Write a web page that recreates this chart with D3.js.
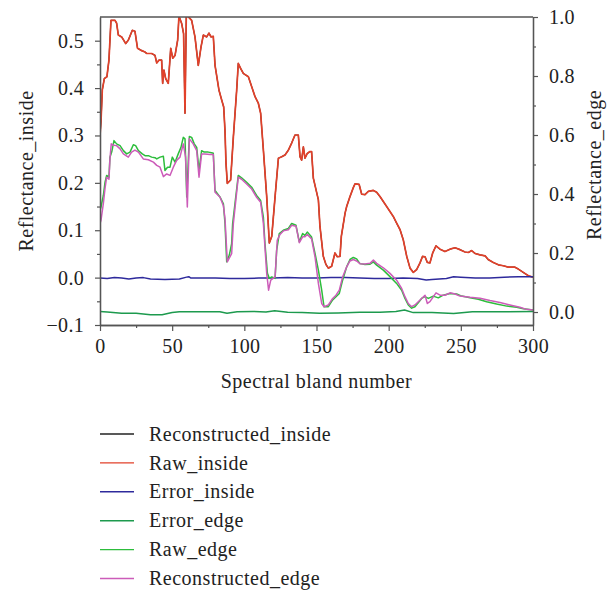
<!DOCTYPE html>
<html>
<head>
<meta charset="utf-8">
<script src="https://cdn.jsdelivr.net/npm/d3@7"></script>
<style>
  html, body { margin: 0; padding: 0; background: #fff; }
  svg { display: block; }
  text { font-family: "Liberation Serif", "Times New Roman", serif; fill: #222; }
</style>
</head>
<body>
<svg id="chart" width="613" height="590"></svg>
<script>
// Spectral band numbers and reflectance values for each series: [band, value]
const rawInside = [[0,0.300],[0.7,0.330],[1.6,0.396],[3,0.420],[4.8,0.424],[6.2,0.459],[7.6,0.543],[10.4,0.543],[11.5,0.537],[12.7,0.512],[15,0.508],[17.8,0.494],[19.6,0.501],[22.4,0.522],[24.2,0.520],[26,0.484],[28.9,0.479],[31.2,0.476],[32.3,0.473],[35.8,0.473],[38.1,0.469],[39.3,0.453],[40.9,0.459],[42.7,0.459],[43.4,0.410],[44.3,0.438],[45.5,0.420],[47.3,0.410],[49,0.484],[50.4,0.463],[52,0.469],[53.8,0.501],[54.7,0.552],[56.6,0.536],[57.9,0.515],[58.9,0.347],[59.8,0.555],[63.5,0.543],[65.8,0.508],[68.1,0.448],[70,0.487],[71.6,0.512],[73.9,0.508],[75.5,0.516],[76.9,0.508],[78.5,0.509],[79.7,0.448],[82.4,0.396],[84.3,0.375],[85.7,0.360],[86.6,0.310],[87.3,0.241],[88.2,0.199],[90.5,0.206],[92.4,0.297],[94.7,0.396],[95.8,0.452],[97.5,0.441],[99.3,0.431],[102.8,0.424],[105.1,0.403],[107.4,0.382],[109.7,0.368],[111.3,0.347],[113.2,0.269],[115.5,0.171],[117.3,0.073],[119,0.087],[121.3,0.171],[123.6,0.252],[125.9,0.255],[128.2,0.259],[130.5,0.269],[132.8,0.284],[135.1,0.301],[137.4,0.301],[138.6,0.255],[139.7,0.248],[140.9,0.276],[142,0.252],[143.6,0.262],[145.5,0.266],[146.6,0.266],[147.8,0.210],[151.3,0.164],[152.4,0.108],[154.7,0.045],[156.5,0.028],[158.2,0.020],[160.5,0.024],[162.8,0.052],[164.4,0.044],[166.3,0.045],[167.2,0.087],[169.8,0.136],[170.9,0.150],[173.2,0.171],[175.5,0.190],[176.7,0.198],[179.5,0.197],[181.3,0.176],[183.6,0.175],[185.9,0.182],[189.4,0.184],[191.7,0.180],[194,0.171],[198.6,0.150],[203.2,0.129],[205,0.118],[207.9,0.101],[210.1,0.080],[212.5,0.045],[214.8,0.020],[217.1,0.011],[219.4,0.017],[221.7,0.031],[223.5,0.045],[225.2,0.044],[226.8,0.032],[228.6,0.031],[230.5,0.052],[232.8,0.067],[235.6,0.060],[239,0.055],[242.5,0.060],[246,0.063],[249.4,0.059],[252.9,0.054],[255.2,0.053],[257.5,0.057],[259.8,0.051],[263.3,0.048],[266.8,0.046],[269,0.038],[272.5,0.032],[276,0.027],[279.4,0.025],[282.9,0.022],[287.5,0.022],[289.8,0.018],[293.3,0.011],[296.8,0.004],[300,0.001]];

// Reconstruction of the inside spectrum coincides with the raw spectrum
const reconstructedInside = [[0,0.300],[0.7,0.330],[1.6,0.396],[3,0.420],[4.8,0.424],[6.2,0.459],[7.6,0.543],[10.4,0.543],[11.5,0.537],[12.7,0.512],[15,0.508],[17.8,0.494],[19.6,0.501],[22.4,0.522],[24.2,0.520],[26,0.484],[28.9,0.479],[31.2,0.476],[32.3,0.473],[35.8,0.473],[38.1,0.469],[39.3,0.453],[40.9,0.459],[42.7,0.459],[43.4,0.410],[44.3,0.438],[45.5,0.420],[47.3,0.410],[49,0.484],[50.4,0.463],[52,0.469],[53.8,0.501],[54.7,0.552],[56.6,0.536],[57.9,0.515],[58.9,0.347],[59.8,0.555],[63.5,0.543],[65.8,0.508],[68.1,0.448],[70,0.487],[71.6,0.512],[73.9,0.508],[75.5,0.516],[76.9,0.508],[78.5,0.509],[79.7,0.448],[82.4,0.396],[84.3,0.375],[85.7,0.360],[86.6,0.310],[87.3,0.241],[88.2,0.199],[90.5,0.206],[92.4,0.297],[94.7,0.396],[95.8,0.452],[97.5,0.441],[99.3,0.431],[102.8,0.424],[105.1,0.403],[107.4,0.382],[109.7,0.368],[111.3,0.347],[113.2,0.269],[115.5,0.171],[117.3,0.073],[119,0.087],[121.3,0.171],[123.6,0.252],[125.9,0.255],[128.2,0.259],[130.5,0.269],[132.8,0.284],[135.1,0.301],[137.4,0.301],[138.6,0.255],[139.7,0.248],[140.9,0.276],[142,0.252],[143.6,0.262],[145.5,0.266],[146.6,0.266],[147.8,0.210],[151.3,0.164],[152.4,0.108],[154.7,0.045],[156.5,0.028],[158.2,0.020],[160.5,0.024],[162.8,0.052],[164.4,0.044],[166.3,0.045],[167.2,0.087],[169.8,0.136],[170.9,0.150],[173.2,0.171],[175.5,0.190],[176.7,0.198],[179.5,0.197],[181.3,0.176],[183.6,0.175],[185.9,0.182],[189.4,0.184],[191.7,0.180],[194,0.171],[198.6,0.150],[203.2,0.129],[205,0.118],[207.9,0.101],[210.1,0.080],[212.5,0.045],[214.8,0.020],[217.1,0.011],[219.4,0.017],[221.7,0.031],[223.5,0.045],[225.2,0.044],[226.8,0.032],[228.6,0.031],[230.5,0.052],[232.8,0.067],[235.6,0.060],[239,0.055],[242.5,0.060],[246,0.063],[249.4,0.059],[252.9,0.054],[255.2,0.053],[257.5,0.057],[259.8,0.051],[263.3,0.048],[266.8,0.046],[269,0.038],[272.5,0.032],[276,0.027],[279.4,0.025],[282.9,0.022],[287.5,0.022],[289.8,0.018],[293.3,0.011],[296.8,0.004],[300,0.001]];

const errorInside = [[0,-0.001],[5,-0.002],[10,0.000],[15,-0.001],[20,-0.003],[25,-0.001],[30,0.000],[35,-0.003],[45,-0.004],[55,-0.003],[60,0.001],[61.5,0.002],[63,-0.001],[70,-0.001],[80,-0.001],[90,-0.002],[100,-0.002],[110,-0.001],[120,-0.001],[130,0.000],[140,-0.001],[150,-0.001],[160,0.000],[170,0.000],[180,-0.001],[190,-0.002],[200,-0.002],[210,-0.001],[220,-0.002],[226,-0.005],[230,-0.004],[240,-0.002],[245,0.002],[250,0.001],[260,-0.001],[270,-0.001],[280,0.001],[290,0.002],[300,0.002]];

const errorEdge = [[0,0.002],[5,0.000],[15,-0.004],[25,-0.004],[35,-0.009],[43,-0.009],[50,-0.002],[55,0.001],[70,0.001],[83,0.001],[88,-0.004],[95,0.001],[106,0.002],[115,0.000],[121,0.004],[130,-0.001],[140,-0.002],[152,-0.004],[165,-0.003],[180,-0.001],[194,-0.001],[205,0.002],[211,0.007],[217,-0.002],[230,-0.002],[245,-0.005],[258,0.001],[280,0.001],[300,0.002]];

const rawEdge = [[0,0.345],[0.7,0.356],[2.3,0.395],[3.5,0.440],[4.6,0.463],[6.2,0.457],[6.9,0.525],[8.1,0.542],[9.7,0.581],[11.5,0.570],[13.9,0.564],[16.2,0.547],[18.5,0.536],[20.8,0.542],[23.1,0.567],[24.7,0.564],[26.6,0.547],[29.3,0.536],[31.2,0.530],[33.5,0.530],[35.8,0.525],[38.1,0.523],[39.3,0.519],[41.6,0.525],[43.9,0.528],[45,0.480],[46.8,0.491],[48.5,0.491],[50.1,0.525],[52,0.508],[54.2,0.536],[56.1,0.558],[57.7,0.592],[58.9,0.587],[60.1,0.390],[61.9,0.595],[63.5,0.592],[65.3,0.570],[67,0.558],[68.6,0.480],[70.4,0.547],[72.2,0.542],[75,0.542],[77.3,0.540],[78.5,0.538],[79.7,0.412],[83.1,0.390],[85.5,0.367],[86.6,0.300],[87.8,0.170],[89.6,0.193],[91.2,0.232],[91.9,0.300],[93.5,0.367],[95.8,0.463],[98.1,0.455],[101.6,0.440],[105.1,0.423],[108.5,0.395],[111.3,0.378],[113.2,0.322],[114.3,0.232],[116,0.131],[117.3,0.114],[119,0.119],[121.3,0.114],[122.4,0.209],[124.2,0.266],[127,0.277],[130.5,0.283],[132.8,0.300],[135.8,0.294],[138.1,0.238],[140.4,0.266],[142,0.260],[143.6,0.271],[146.6,0.254],[149,0.198],[151.3,0.142],[153.6,0.074],[155.2,0.018],[158.2,0.018],[161.2,0.041],[163.5,0.052],[165.8,0.063],[168.1,0.108],[170.9,0.153],[173.2,0.178],[175.5,0.185],[177.8,0.180],[180.1,0.164],[183.6,0.161],[187.1,0.162],[189.4,0.170],[191.7,0.159],[196.3,0.142],[200.9,0.120],[205.5,0.097],[209,0.074],[211.3,0.046],[213.6,0.024],[215.9,0.013],[218.2,0.018],[220.5,0.031],[222.8,0.046],[225.2,0.052],[227.5,0.046],[230.9,0.054],[234.4,0.048],[237.8,0.057],[242.5,0.063],[247.1,0.061],[250.6,0.054],[256.4,0.048],[262.1,0.043],[267.9,0.035],[274.8,0.027],[281.8,0.020],[288.7,0.016],[293.3,0.011],[300,0.007]];

const reconstructedEdge = [[0,0.300],[0.7,0.311],[2.3,0.367],[3.5,0.420],[4.6,0.457],[6.2,0.450],[6.9,0.519],[7.8,0.570],[9.5,0.565],[11.5,0.564],[13.9,0.553],[16.2,0.536],[19.6,0.525],[21.9,0.542],[24.2,0.549],[26.6,0.542],[30,0.519],[33.5,0.516],[37,0.508],[39.3,0.497],[41.6,0.491],[43.9,0.459],[46.2,0.468],[48.5,0.463],[50.8,0.491],[53.1,0.514],[55.4,0.525],[57.7,0.570],[59.3,0.525],[60.5,0.356],[61.9,0.587],[64.6,0.570],[67,0.547],[68.6,0.457],[70.4,0.536],[72.7,0.536],[76.2,0.534],[78.5,0.534],[79.7,0.406],[83.1,0.390],[85.5,0.360],[86.6,0.317],[88.2,0.170],[91.2,0.198],[92.4,0.300],[95.8,0.457],[98.1,0.450],[101.6,0.434],[105.1,0.417],[108.5,0.389],[111.3,0.372],[113.2,0.300],[115.5,0.131],[116.8,0.074],[118.3,0.108],[121.3,0.119],[122.8,0.243],[124.7,0.263],[127,0.275],[130.5,0.279],[132.8,0.294],[135.8,0.291],[138.1,0.235],[140.4,0.255],[142,0.255],[143.6,0.263],[146.6,0.248],[149,0.186],[151.3,0.097],[153.6,0.029],[155.2,0.018],[158.2,0.024],[161.2,0.046],[163.5,0.057],[165.8,0.074],[168.1,0.119],[170.9,0.153],[173.2,0.173],[175.5,0.178],[177.8,0.173],[180.1,0.164],[183.6,0.163],[187.1,0.165],[189.4,0.176],[191.7,0.165],[196.3,0.150],[200.9,0.131],[205.5,0.108],[209,0.080],[211.3,0.052],[213.6,0.029],[215.9,0.018],[218.2,0.024],[220.5,0.035],[222.8,0.046],[225.2,0.057],[226.8,0.029],[228.6,0.035],[232.8,0.065],[235.6,0.057],[239,0.057],[242.5,0.065],[246,0.061],[249.4,0.054],[256.4,0.050],[263.3,0.047],[270.2,0.039],[277.1,0.032],[284,0.024],[290.9,0.016],[295.5,0.009],[300,0.007]];

// Axis ticks
const xTicks = [0, 50, 100, 150, 200, 250, 300];
const xMinorTicks = [25, 75, 125, 175, 225, 275];
const leftTicks = [-0.1, 0.0, 0.1, 0.2, 0.3, 0.4, 0.5];
const leftMinorTicks = [-0.05, 0.05, 0.15, 0.25, 0.35, 0.45];
const rightTicks = [0.0, 0.2, 0.4, 0.6, 0.8, 1.0];
const rightMinorTicks = [0.1, 0.3, 0.5, 0.7, 0.9];

// Legend entries, in drawing order
const seriesNames = ["Reconstructed_inside", "Raw_inside", "Error_inside", "Error_edge", "Raw_edge", "Reconstructed_edge"];
const seriesColors = ["#222222", "#e2412a", "#2e2a9c", "#1d9a4e", "#2dbd3c", "#cc5cb9"];

const svg = d3.select("#chart");
const L = 100, R = 533, T = 17, B = 325;

const x = d3.scaleLinear().domain([0, 300]).range([L, R]);
const yL = d3.scaleLinear().domain([-0.1, 0.55]).range([B, T]);
const yR = d3.scaleLinear().domain([-0.044, 1.0]).range([B, T]);

svg.append("defs").append("clipPath").attr("id", "plot-clip")
  .append("rect").attr("x", L).attr("y", T).attr("width", R - L).attr("height", B - T);

const plot = svg.append("g").attr("clip-path", "url(#plot-clip)");

const series = [
  { data: reconstructedInside, y: yL, w: 1.2 },
  { data: rawInside, y: yL, w: 1.7 },
  { data: errorInside, y: yL, w: 1.5 },
  { data: errorEdge, y: yR, w: 1.5 },
  { data: rawEdge, y: yR, w: 1.5 },
  { data: reconstructedEdge, y: yR, w: 1.5 }
];

series.forEach((s, i) => {
  const line = d3.line().x(d => x(d[0])).y(d => s.y(d[1]));
  plot.append("path")
    .datum(s.data)
    .attr("fill", "none")
    .attr("stroke", seriesColors[i])
    .attr("stroke-width", s.w)
    .attr("stroke-linejoin", "round")
    .attr("d", line);
});

const axisColor = "#555";
const fmt = d3.format(".1f");

function styleAxis(g) {
  g.select(".domain").attr("stroke", axisColor).attr("stroke-width", 1.3);
  g.selectAll(".tick line").attr("stroke", axisColor).attr("stroke-width", 1.2);
  g.selectAll(".tick text")
    .attr("font-family", "Liberation Serif, serif")
    .attr("font-size", 20)
    .attr("letter-spacing", "0.3px")
    .attr("fill", "#222");
}

// Top frame line
svg.append("line").attr("x1", L).attr("x2", R).attr("y1", T).attr("y2", T)
  .attr("stroke", axisColor).attr("stroke-width", 1.3);

// Bottom axis
svg.append("g").attr("transform", `translate(0,${B})`)
  .call(d3.axisBottom(x).tickValues(xMinorTicks).tickSize(3).tickFormat("").tickSizeOuter(0))
  .call(styleAxis);
svg.append("g").attr("transform", `translate(0,${B})`)
  .call(d3.axisBottom(x).tickValues(xTicks).tickSize(6).tickPadding(8).tickSizeOuter(0))
  .call(styleAxis);

// Left axis
svg.append("g").attr("transform", `translate(${L},0)`)
  .call(d3.axisLeft(yL).tickValues(leftMinorTicks).tickSize(3).tickFormat("").tickSizeOuter(0))
  .call(styleAxis);
svg.append("g").attr("transform", `translate(${L},0)`)
  .call(d3.axisLeft(yL).tickValues(leftTicks).tickSize(5).tickPadding(11).tickFormat(fmt).tickSizeOuter(0))
  .call(styleAxis);

// Right axis
svg.append("g").attr("transform", `translate(${R},0)`)
  .call(d3.axisRight(yR).tickValues(rightMinorTicks).tickSize(3).tickFormat("").tickSizeOuter(0))
  .call(styleAxis);
svg.append("g").attr("transform", `translate(${R},0)`)
  .call(d3.axisRight(yR).tickValues(rightTicks).tickSize(5).tickPadding(11).tickFormat(fmt).tickSizeOuter(0))
  .call(styleAxis);

// Axis titles
svg.append("text")
  .attr("x", (L + R) / 2).attr("y", 388)
  .attr("text-anchor", "middle").attr("font-size", 20).attr("letter-spacing", "0.5px")
  .text("Spectral bland number");

svg.append("text")
  .attr("transform", `translate(33,${(T + B) / 2}) rotate(-90)`)
  .attr("text-anchor", "middle").attr("font-size", 20).attr("letter-spacing", "0.5px")
  .text("Reflectance_inside");

svg.append("text")
  .attr("transform", `translate(601,${(T + B) / 2 - 6}) rotate(-90)`)
  .attr("text-anchor", "middle").attr("font-size", 20).attr("letter-spacing", "0.5px")
  .text("Reflectance_edge");

// Legend
const legend = svg.append("g");
seriesNames.forEach((name, i) => {
  const yy = 434 + i * 28.9;
  legend.append("line")
    .attr("x1", 100).attr("x2", 134).attr("y1", yy).attr("y2", yy)
    .attr("stroke", seriesColors[i]).attr("stroke-width", 1.4);
  legend.append("text")
    .attr("x", 149).attr("y", yy).attr("dy", "0.33em")
    .attr("font-size", 20).attr("letter-spacing", "0.5px")
    .text(name);
});
</script>
</body>
</html>
